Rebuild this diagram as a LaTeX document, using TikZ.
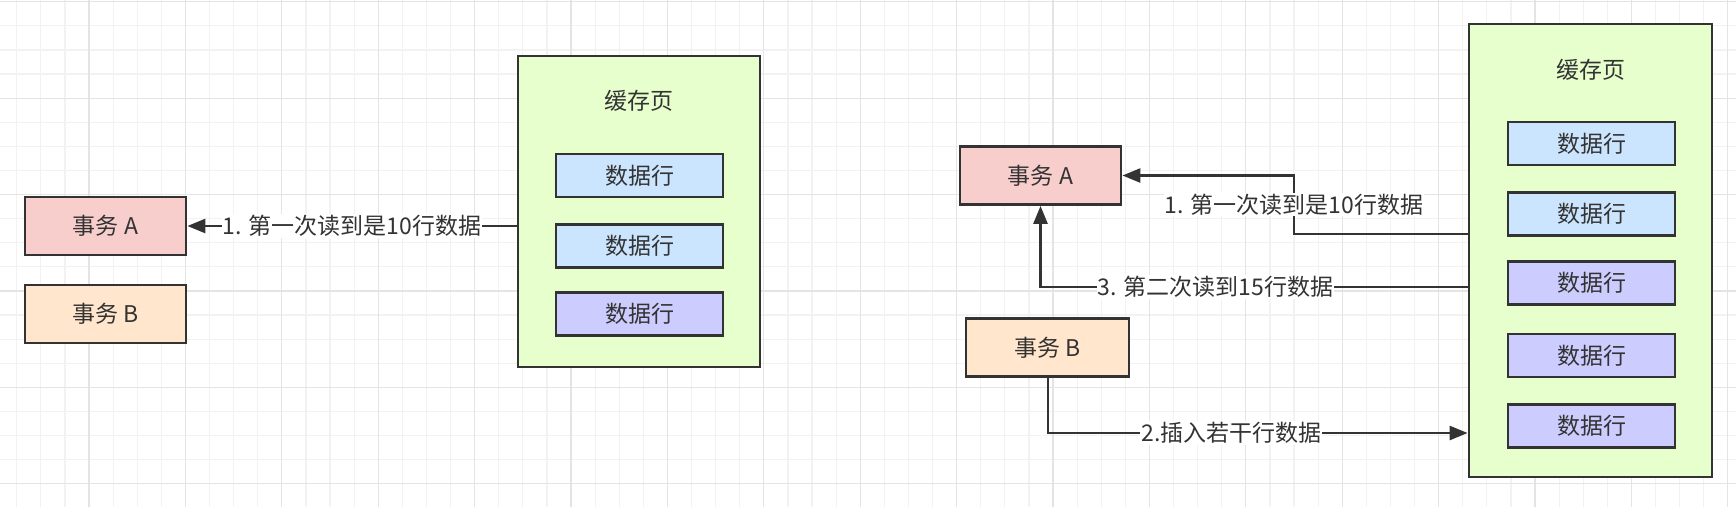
\documentclass[tikz,border=0pt]{standalone}
\usepackage{fontspec}
\setmainfont{Noto Sans CJK SC}
\usetikzlibrary{arrows.meta}
\definecolor{ink}{HTML}{333333}
\definecolor{gminor}{HTML}{F2F2F2}
\definecolor{gmajor}{HTML}{E4E4E4}
\definecolor{fA}{HTML}{F8CECC}
\definecolor{fB}{HTML}{FFE6CC}
\definecolor{fcache}{HTML}{E6FFCC}
\definecolor{fblue}{HTML}{CCE5FF}
\definecolor{fpurple}{HTML}{CCCCFF}
\tikzset{
  box/.style={draw=ink, line width=2.8pt, rectangle, inner sep=0pt, text=ink,
    font=\fontsize{23}{26}\selectfont},
  txbox/.style={box, minimum width=161pt, minimum height=58pt},
  rowbox/.style={box, minimum width=167pt, minimum height=43pt},
  cachebox/.style={box, fill=fcache},
  ttl/.style={text=ink, font=\fontsize{23}{26}\selectfont, inner sep=0pt},
  conn/.style={draw=ink, line width=2.6pt, -{Triangle[length=18pt,width=14pt]}},
  lbl/.style={fill=white, text=ink, font=\fontsize{23}{26}\selectfont, inner sep=1pt},
}
\begin{document}
\begin{tikzpicture}[x=1pt,y=-1pt]
\useasboundingbox (0,0) rectangle (1736,507);
\fill[white] (0,0) rectangle (1736,507);
% grid
\foreach \k in {0,...,71} \draw[gminor, line width=1.2pt] ({16.7+24.1*\k},0) -- ({16.7+24.1*\k},507);
\foreach \k in {0,...,20} \draw[gminor, line width=1.2pt] (0,{1.7+24.1*\k}) -- (1736,{1.7+24.1*\k});
\foreach \k in {0,...,17} \draw[gmajor, line width=1.2pt] ({89+96.4*\k},0) -- ({89+96.4*\k},507);
\foreach \k in {0,...,5} \draw[gmajor, line width=1.2pt] (0,{1.7+96.4*\k}) -- (1736,{1.7+96.4*\k});

% ---------- left scene ----------
\node[cachebox, minimum width=242pt, minimum height=311pt] (cacheL) at (639,211.5) {};
\node[ttl] (titleL) at (639,101) {缓存页};
\node[rowbox, fill=fblue] (rL1) at (639.5,175.5) {数据行};
\node[rowbox, fill=fblue] (rL2) at (639.5,246) {数据行};
\node[rowbox, fill=fpurple] (rL3) at (639.5,314) {数据行};
\node[txbox, fill=fA] (AL) at (105.5,226) {事务 A};
\node[txbox, fill=fB] (BL) at (105.5,314) {事务 B};
\draw[conn] (AL.east -| cacheL.west) -- node[lbl] {1. 第一次读到是10行数据} (AL.east);

% ---------- right scene ----------
\node[cachebox, minimum width=243pt, minimum height=453pt] (cacheR) at (1590.5,250.5) {};
\node[ttl] (titleR) at (1590.5,70) {缓存页};
\node[rowbox, fill=fblue] (rR1) at (1591.5,143.5) {数据行};
\node[rowbox, fill=fblue] (rR2) at (1591.5,214) {数据行};
\node[rowbox, fill=fpurple] (rR3) at (1591.5,283) {数据行};
\node[rowbox, fill=fpurple] (rR4) at (1591.5,355.5) {数据行};
\node[rowbox, fill=fpurple] (rR5) at (1591.5,426) {数据行};
\node[txbox, fill=fA] (AR) at (1040.5,175.5) {事务 A};
\node[txbox, fill=fB, minimum width=163pt] (BR) at (1047.5,347.5) {事务 B};

\coordinate (c1s) at (cacheR.west |- 0,234);
\coordinate (c1b) at (1294,234);
\draw[conn] (c1s) -- (c1b) -- node[lbl] {1. 第一次读到是10行数据} (c1b |- AR.east) -- (AR.east);

\coordinate (c3s) at (cacheR.west |- 0,287);
\draw[conn] (c3s) -| node[lbl, pos=0.295] {3. 第二次读到15行数据} (AR.south);

\coordinate (c2s) at (1048,0 |- BR.south);
\coordinate (c2e) at (cacheR.west |- 0,433);
\draw[conn] (c2s) |- node[lbl, pos=0.7185] {2.插入若干行数据} (c2e);
\end{tikzpicture}
\end{document}
